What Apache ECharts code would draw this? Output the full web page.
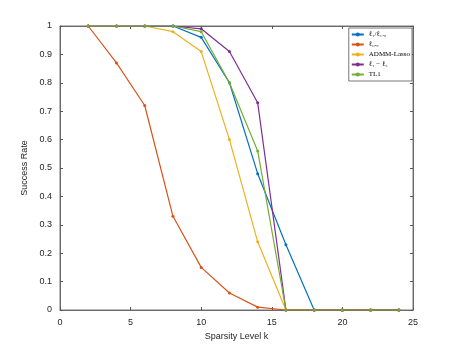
<!DOCTYPE html>
<html>
<head>
<meta charset="utf-8">
<script src="https://cdn.jsdelivr.net/npm/echarts@6/dist/echarts.min.js"></script>
<style>
html,body{margin:0;padding:0;background:#fff;}
#main{width:457px;height:349px;}
</style>
</head>
<body>
<div id="main"></div>
<script>
var ks = [2, 4, 6, 8, 10, 12, 14, 16, 18, 20, 22, 24];
var names = ['ℓ₁/ℓ₁.₅', 'ℓ₀.₅', 'ADMM-Lasso', 'ℓ₁ − ℓ₂', 'TL1'];
var colors = ['#0072BD', '#D95319', '#EDB120', '#7E2F8E', '#77AC30'];
var l1l15 = [1, 1, 1, 1, 0.96, 0.8, 0.48, 0.23, 0, 0, 0, 0];
var l05 = [1, 0.87, 0.72, 0.33, 0.15, 0.06, 0.01, 0, 0, 0, 0, 0];
var admm = [1, 1, 1, 0.98, 0.91, 0.6, 0.24, 0, 0, 0, 0, 0];
var l1l2 = [1, 1, 1, 1, 0.99, 0.91, 0.73, 0, 0, 0, 0, 0];
var tl1 = [1, 1, 1, 1, 0.98, 0.8, 0.56, 0, 0, 0, 0, 0];
var allData = [l1l15, l05, admm, l1l2, tl1];

function pairs(arr) {
    return ks.map(function (k, i) { return [k, arr[i]]; });
}

var chart = echarts.init(document.getElementById('main'));
function axis(extra) {
    var a = {
        axisLine: {show: true, onZero: false, lineStyle: {color: '#555', width: 0.8}},
        axisTick: {show: true, inside: true, length: 3, lineStyle: {color: '#555'}},
        splitLine: {show: false},
        axisLabel: {color: '#262626', fontSize: 9, fontFamily: 'Liberation Sans'}
    };
    for (var k in extra) a[k] = extra[k];
    return a;
}
var series = names.map(function (n, i) {
    return {
        name: n,
        type: 'line',
        data: pairs(allData[i]),
        color: colors[i],
        symbol: 'circle',
        symbolSize: 3,
        showAllSymbol: true,
        lineStyle: {width: 1.2}
    };
});
// empty series so the top/right axes get drawn (box frame)
series.push({type: 'line', xAxisIndex: 1, yAxisIndex: 1, data: [], silent: true});

var option = {
    animation: false,
    grid: {left: 60, right: 44, top: 26, bottom: 39, show: true, borderColor: '#555', borderWidth: 0.8},
    legend: {
        orient: 'vertical',
        right: 45,
        top: 28,
        itemWidth: 12,
        itemHeight: 5,
        itemGap: 3,
        padding: [3, 2, 3, 2],
        borderColor: '#555',
        borderWidth: 0.8,
        backgroundColor: '#fff',
        textStyle: {fontSize: 7, fontFamily: 'Liberation Serif', color: '#000'},
        data: names
    },
    xAxis: [
        axis({
            type: 'value', min: 0, max: 25, interval: 5,
            name: 'Sparsity Level k', nameLocation: 'middle', nameGap: 18,
            nameTextStyle: {fontSize: 9, color: '#262626', fontFamily: 'Liberation Sans'}
        }),
        axis({
            type: 'value', min: 0, max: 25, interval: 5, position: 'top',
            axisLabel: {show: false}
        })
    ],
    yAxis: [
        axis({
            type: 'value', min: 0, max: 1, interval: 0.1,
            name: 'Success Rate', nameLocation: 'middle', nameGap: 22,
            nameTextStyle: {fontSize: 9, color: '#262626', fontFamily: 'Liberation Sans'}
        }),
        axis({
            type: 'value', min: 0, max: 1, interval: 0.1, position: 'right',
            axisLabel: {show: false}
        })
    ],
    series: series
};
chart.setOption(option);
</script>
</body>
</html>
